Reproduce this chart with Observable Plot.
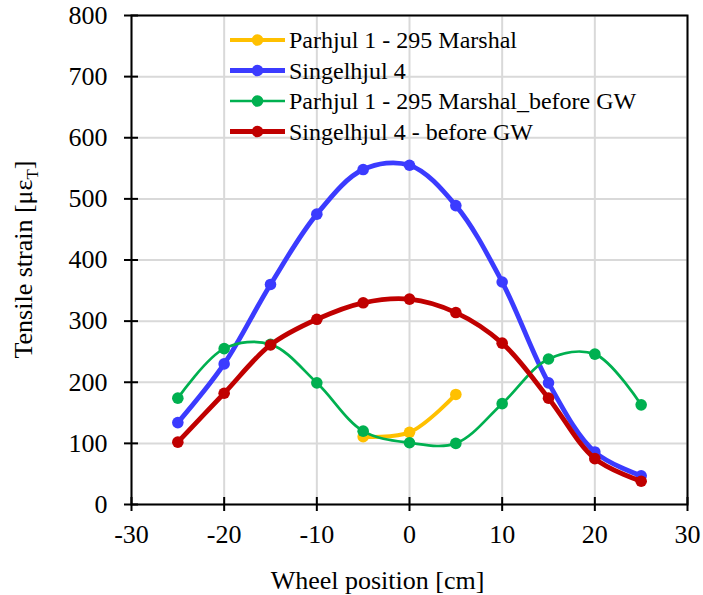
<!DOCTYPE html>
<html>
<head>
<meta charset="utf-8">
<script src="https://cdn.jsdelivr.net/npm/d3@7"></script>
<script src="https://cdn.jsdelivr.net/npm/@observablehq/plot@0.6"></script>
<style>
  html, body { margin: 0; padding: 0; background: #fff; }
  #chart { width: 703px; height: 595px; }
</style>
</head>
<body>
<div id="chart"></div>
<script>
// ---- data ----
const positions = [-25, -20, -15, -10, -5, 0, 5, 10, 15, 20, 25];
const singelhjul4 = [134, 230, 360, 475, 548, 555, 489, 364, 199, 86, 47];
const parhjulBeforeGW = [174, 255, 262, 199, 120, 101, 100, 165, 238, 246, 163];
const singelhjul4BeforeGW = [102, 182, 261, 303, 330, 336, 314, 264, 174, 75, 38];
const parhjulPositions = [-5, 0, 5];
const parhjul295 = [111, 118, 180];

const seriesNames = [
  "Parhjul 1 - 295 Marshal",
  "Singelhjul 4",
  "Parhjul 1 - 295 Marshal_before GW",
  "Singelhjul 4 - before GW"
];
const seriesColors = ["#FFC000", "#3B3BFF", "#00B050", "#C00000"];
const seriesWidths = [4, 4.8, 2.7, 4.8];

const xTicks = [-30, -20, -10, 0, 10, 20, 30];
const yTicks = [0, 100, 200, 300, 400, 500, 600, 700, 800];
const xLabel = "Wheel position [cm]";

// ---- build table ----
const seriesData = [
  parhjulPositions.map((x, i) => ({x, y: parhjul295[i]})),
  positions.map((x, i) => ({x, y: singelhjul4[i]})),
  positions.map((x, i) => ({x, y: parhjulBeforeGW[i]})),
  positions.map((x, i) => ({x, y: singelhjul4BeforeGW[i]}))
];

const font = "Liberation Serif";

const seriesMarks = seriesData.flatMap((d, k) => [
  Plot.line(d, {x: "x", y: "y", stroke: seriesColors[k], strokeWidth: seriesWidths[k], curve: "catmull-rom"}),
  Plot.dot(d, {x: "x", y: "y", fill: seriesColors[k], r: 5.8})
]);

const chart = Plot.plot({
  width: 703,
  height: 595,
  marginLeft: 131,
  marginRight: 16,
  marginTop: 15,
  marginBottom: 91,
  x: {domain: [-30, 30]},
  y: {domain: [0, 800]},
  style: {fontFamily: font, fontSize: "26px", color: "#000", background: "#fff"},
  marks: [
    Plot.gridX(xTicks, {stroke: "#d9d9d9", strokeOpacity: 1, strokeWidth: 2}),
    Plot.gridY(yTicks, {stroke: "#d9d9d9", strokeOpacity: 1, strokeWidth: 2}),
    Plot.frame({stroke: "#000", strokeWidth: 2}),
    Plot.ruleY(yTicks, {y: d => d, x1: -30, x2: -30, insetLeft: -7, insetRight: -7, stroke: "#000", strokeWidth: 2}),
    Plot.ruleX(xTicks, {x: d => d, y1: 0, y2: 0, insetTop: -7, insetBottom: -7, stroke: "#000", strokeWidth: 2}),
    Plot.axisY(yTicks, {tickSize: 0, tickPadding: 24, fontSize: 26, fontFamily: font, label: null, tickFormat: d => String(d)}),
    Plot.axisX(xTicks, {tickSize: 0, tickPadding: 20, fontSize: 26, fontFamily: font, label: null, tickFormat: d => String(d)}),
    Plot.text([xLabel], {text: d => d, frameAnchor: "bottom", dx: -32, dy: 76, lineAnchor: "middle", fontSize: 26, fontFamily: font}),
    ...seriesMarks
  ]
});

document.getElementById("chart").appendChild(chart);

// ---- y axis title with subscript ----
const svg = d3.select(chart);
const yr = chart.scale("y").range;
const yMid = (yr[0] + yr[1]) / 2;
const yt = svg.append("text")
  .attr("transform", `translate(24,${yMid}) rotate(-90)`)
  .attr("text-anchor", "middle")
  .attr("dy", "0.32em")
  .attr("font-family", font)
  .attr("font-size", 26)
  .attr("fill", "#000");
yt.append("tspan").text("Tensile strain [με");
yt.append("tspan").text("T").attr("font-size", 17).attr("dy", "0.35em");
yt.append("tspan").text("]").attr("dy", "-0.23em");

// ---- legend (inside plot area) ----
const lg = svg.append("g").attr("font-family", font).attr("font-size", 24).attr("text-anchor", "start");
seriesNames.forEach((name, k) => {
  const cy = 40 + k * 30.5;
  lg.append("line").attr("x1", 230).attr("x2", 285).attr("y1", cy).attr("y2", cy)
    .attr("stroke", seriesColors[k]).attr("stroke-width", seriesWidths[k]);
  lg.append("circle").attr("cx", 257.5).attr("cy", cy).attr("r", 5.8).attr("fill", seriesColors[k]);
  lg.append("text").attr("x", 289).attr("y", cy).attr("dy", "0.34em").attr("text-anchor", "start").attr("fill", "#000").text(name);
});
</script>
</body>
</html>
